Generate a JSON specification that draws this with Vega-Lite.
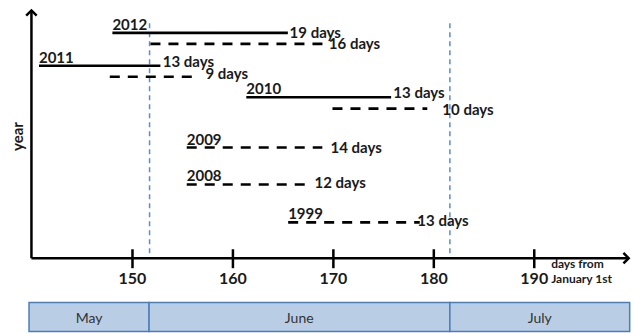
{
  "$schema": "https://vega.github.io/schema/vega-lite/v6.json",
  "width": 634,
  "height": 333,
  "autosize": {"type": "fit", "contains": "padding"},
  "padding": 0,
  "background": "white",
  "config": {"view": {"stroke": null}, "text": {"font": "Lato"}},
  "datasets": {
    "segments": [
      {"year": "2012", "type": "solid", "start": 148.0, "end": 165.47, "level": 226, "showYear": true},
      {"year": "2012", "type": "dashed", "start": 151.79, "end": 169.32, "level": 215, "showYear": false},
      {"year": "2011", "type": "solid", "start": 140.69, "end": 152.78, "level": 193, "showYear": true},
      {"year": "2011", "type": "dashed", "start": 147.74, "end": 155.97, "level": 182, "showYear": false},
      {"year": "2010", "type": "solid", "start": 161.33, "end": 175.75, "level": 161.5, "showYear": true},
      {"year": "2010", "type": "dashed", "start": 169.91, "end": 179.35, "level": 150, "showYear": false},
      {"year": "2009", "type": "dashed", "start": 155.4, "end": 168.9, "level": 111, "showYear": true},
      {"year": "2008", "type": "dashed", "start": 155.4, "end": 167.2, "level": 74, "showYear": true},
      {"year": "1999", "type": "dashed", "start": 165.5, "end": 178.6, "level": 36, "showYear": true}
    ],
    "durations": [
      {"label": "19 days", "day": 165.64, "level": 226},
      {"label": "16 days", "day": 169.55, "level": 215},
      {"label": "13 days", "day": 153.01, "level": 197},
      {"label": "9 days", "day": 157.26, "level": 185},
      {"label": "13 days", "day": 175.97, "level": 166},
      {"label": "10 days", "day": 180.85, "level": 149},
      {"label": "14 days", "day": 169.71, "level": 111},
      {"label": "12 days", "day": 168.12, "level": 75},
      {"label": "13 days", "day": 178.36, "level": 37}
    ],
    "months": [
      {"month": "May", "start": 139.7, "end": 151.65, "mid": 145.68},
      {"month": "June", "start": 151.65, "end": 181.6, "mid": 166.6},
      {"month": "July", "start": 181.6, "end": 199.5, "mid": 190.55}
    ],
    "ticks": [{"day": 150}, {"day": 160}, {"day": 170}, {"day": 180}, {"day": 190}],
    "guides": [{"day": 151.7}, {"day": 181.6}]
  },
  "layer": [
    {
      "data": {"name": "guides"},
      "mark": {"type": "rule", "color": "#5b8ccc", "strokeWidth": 1.5, "strokeDash": [5, 4]},
      "encoding": {
        "x": {"field": "day", "type": "quantitative", "scale": {"domain": [136.81, 199.83], "nice": false, "zero": false, "padding": 0}, "axis": null},
        "y": {"datum": 5, "type": "quantitative", "scale": {"domain": [-74, 259], "nice": false, "zero": false, "padding": 0}, "axis": null},
        "y2": {"datum": 238}
      }
    },
    {
      "data": {"name": "months"},
      "mark": {"type": "rect", "fill": "#b9cde5", "stroke": "#4a7ebb", "strokeWidth": 1.5},
      "encoding": {
        "x": {"field": "start", "type": "quantitative"},
        "x2": {"field": "end"},
        "y": {"datum": -44.5, "type": "quantitative"},
        "y2": {"datum": -73.5}
      }
    },
    {
      "data": {"name": "months"},
      "mark": {"type": "text", "fontSize": 14, "color": "#333333", "baseline": "middle", "align": "center", "font": "Lato"},
      "encoding": {
        "x": {"field": "mid", "type": "quantitative"},
        "y": {"datum": -61, "type": "quantitative"},
        "text": {"field": "month"}
      }
    },
    {
      "data": {"values": [{"a": 139.94, "b": 199.3}]},
      "mark": {"type": "rule", "color": "black", "strokeWidth": 2.5},
      "encoding": {
        "x": {"field": "a", "type": "quantitative"},
        "x2": {"field": "b"},
        "y": {"datum": 0, "type": "quantitative"}
      }
    },
    {
      "data": {"values": [{"a": 139.94}]},
      "mark": {"type": "rule", "color": "black", "strokeWidth": 2.5},
      "encoding": {
        "x": {"field": "a", "type": "quantitative"},
        "y": {"datum": 0, "type": "quantitative"},
        "y2": {"datum": 248}
      }
    },
    {
      "data": {"values": [{"a": 139.94}]},
      "mark": {"type": "point", "shape": "M-1,1L0,0L1,1", "filled": false, "stroke": "black", "strokeWidth": 2.5, "size": 110, "opacity": 1},
      "encoding": {
        "x": {"field": "a", "type": "quantitative"},
        "y": {"datum": 248.5, "type": "quantitative"}
      }
    },
    {
      "data": {"values": [{"a": 199.4}]},
      "mark": {"type": "point", "shape": "M-1,-1L0,0L-1,1", "filled": false, "stroke": "black", "strokeWidth": 2.5, "size": 110, "opacity": 1},
      "encoding": {
        "x": {"field": "a", "type": "quantitative"},
        "y": {"datum": 0, "type": "quantitative"}
      }
    },
    {
      "data": {"name": "ticks"},
      "mark": {"type": "rule", "color": "black", "strokeWidth": 2.5},
      "encoding": {
        "x": {"field": "day", "type": "quantitative"},
        "y": {"datum": 9, "type": "quantitative"},
        "y2": {"datum": -10}
      }
    },
    {
      "data": {"name": "ticks"},
      "mark": {"type": "text", "fontSize": 16, "fontWeight": "bold", "color": "#1a1a1a", "baseline": "middle", "align": "center"},
      "encoding": {
        "x": {"field": "day", "type": "quantitative"},
        "y": {"datum": -21, "type": "quantitative"},
        "text": {"field": "day", "type": "quantitative"}
      }
    },
    {
      "data": {"values": [{"t": "days from", "lvl": -5.5}, {"t": "January 1st", "lvl": -20.5}]},
      "mark": {"type": "text", "fontSize": 12, "fontWeight": "bold", "color": "#1a1a1a", "baseline": "middle", "align": "left"},
      "encoding": {
        "x": {"datum": 191.68, "type": "quantitative"},
        "y": {"field": "lvl", "type": "quantitative"},
        "text": {"field": "t"}
      }
    },
    {
      "data": {"values": [{"t": "year"}]},
      "mark": {"type": "text", "fontSize": 15, "fontWeight": "bold", "color": "#1a1a1a", "baseline": "middle", "align": "center", "angle": 270},
      "encoding": {
        "x": {"datum": 138.6, "type": "quantitative"},
        "y": {"datum": 122, "type": "quantitative"},
        "text": {"field": "t"}
      }
    },
    {
      "data": {"name": "segments"},
      "mark": {"type": "rule", "color": "black", "strokeWidth": 2.6},
      "encoding": {
        "x": {"field": "start", "type": "quantitative"},
        "x2": {"field": "end"},
        "y": {"field": "level", "type": "quantitative"},
        "strokeDash": {"field": "type", "type": "nominal", "scale": {"domain": ["solid", "dashed"], "range": [[1, 0], [10, 8]]}, "legend": null}
      }
    },
    {
      "data": {"name": "segments"},
      "transform": [{"filter": "datum.showYear"}],
      "mark": {"type": "text", "fontSize": 15, "fontWeight": "bold", "color": "#1a1a1a", "baseline": "alphabetic", "align": "left", "dy": -3},
      "encoding": {
        "x": {"field": "start", "type": "quantitative"},
        "y": {"field": "level", "type": "quantitative"},
        "text": {"field": "year"}
      }
    },
    {
      "data": {"name": "durations"},
      "mark": {"type": "text", "fontSize": 15, "fontWeight": "bold", "color": "#1a1a1a", "baseline": "middle", "align": "left"},
      "encoding": {
        "x": {"field": "day", "type": "quantitative"},
        "y": {"field": "level", "type": "quantitative"},
        "text": {"field": "label"}
      }
    }
  ]
}
